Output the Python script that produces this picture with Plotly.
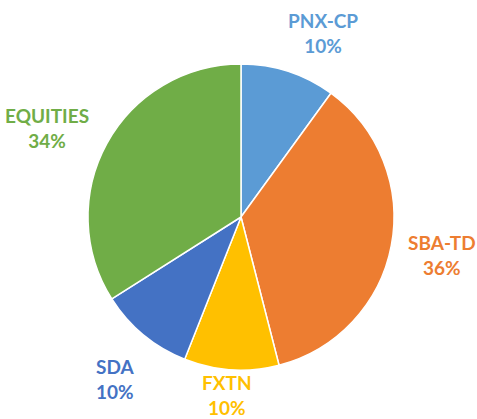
import plotly.graph_objects as go

labels = ["PNX-CP", "SBA-TD", "FXTN", "SDA", "EQUITIES"]
values = [10, 36, 10, 10, 34]
colors = ["#5B9BD5", "#ED7D31", "#FFC000", "#4472C4", "#70AD47"]
# label block centres in page pixels (layout only)
label_px = [(323, 33), (442, 255), (227, 395), (115, 379), (47, 128)]

W, H = 477, 419
total = sum(values)


def px_x(p):
    return p / W


def px_y(p):
    return 1 - p / H


fig = go.Figure(go.Pie(
    labels=labels, values=values, sort=False, direction="clockwise", rotation=0,
    marker=dict(colors=colors, line=dict(color="white", width=1.5)),
    textinfo="none", hoverinfo="label+percent", showlegend=False,
    domain=dict(x=[px_x(88), px_x(394)], y=[px_y(370), px_y(64)]),
))

for lab, val, col, (px, py) in zip(labels, values, colors, label_px):
    fig.add_annotation(
        x=px_x(px), y=px_y(py), xref="paper", yref="paper",
        text=f"<b>{lab}<br>{round(100 * val / total)}%</b>",
        showarrow=False, xanchor="center", yanchor="middle",
        font=dict(family="Lato", size=19, color=col), align="center",
    )

fig.update_layout(width=W, height=H, margin=dict(l=0, r=0, t=0, b=0),
                  paper_bgcolor="white", plot_bgcolor="white")
fig.write_html("out.html", config={"displayModeBar": False},
               post_script="document.body.style.margin='0px';"
                           "document.body.style.overflow='hidden';")
